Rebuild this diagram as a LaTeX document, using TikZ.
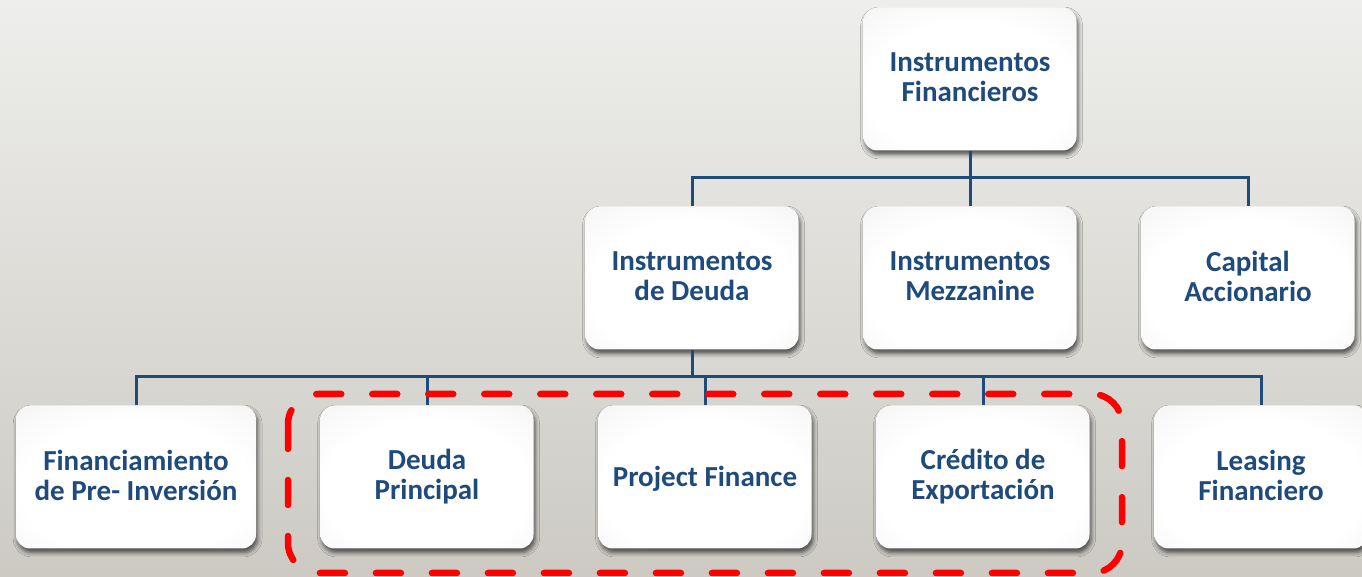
\documentclass[tikz,border=0pt]{standalone}
\usepackage{fontspec}
\setmainfont{Carlito}
\usetikzlibrary{shadows.blur}

\definecolor{bgtop}{HTML}{EEEEEC}
\definecolor{bgbot}{HTML}{CCCAC3}
\definecolor{navy}{HTML}{1F4A7C}
\definecolor{hlred}{HTML}{FF0000}

% invisible rule that fixes the vertical placement of card labels
\newcommand\cardstrut{\rule[-2pt]{0pt}{14pt}}

% soft white card face, slightly greyer towards the rim
\pgfdeclareradialshading{cardshade}{\pgfpoint{0bp}{-6bp}}{%
  color(0bp)=(white); color(24bp)=(white); color(42bp)=(black!5);
  color(58bp)=(black!11); color(80bp)=(black!14)}

\tikzset{
  card/.style={rounded corners=7pt, minimum width=106.5pt, minimum height=71.5pt,
    inner sep=0pt, shading=cardshade,
    blur shadow={shadow xshift=0.8pt, shadow yshift=-2pt,
      shadow blur radius=2.2pt, shadow opacity=65},
    font=\bfseries\fontsize{14.5}{15}\selectfont, text=navy, align=center,
    execute at begin node=\cardstrut, execute at end node=\cardstrut},
  conn/.style={draw=navy, line width=1.5pt},
  highlight/.style={draw=hlred, line width=3.25pt, dash pattern=on 12.5pt off 15.5pt,
    line cap=round, rounded corners=15pt}
}

\begin{document}
\begin{tikzpicture}[x=0.5pt,y=-0.5pt]
  % page background
  \shade[top color=bgtop, bottom color=bgbot] (0,0) rectangle (1362,577);
  \useasboundingbox (0,0) rectangle (1362,577);
  \clip (0,0) rectangle (1362,577);

  % junction points of the two bus lines
  \coordinate (j1) at (970,178);
  \coordinate (j2) at (692,377);

  % root
  \node[card] (top) at (970,79) {Instrumentos\\Financieros};

  % second level
  \node[card] (deuda) at (692,278) {Instrumentos\\de Deuda};
  \node[card] (mezz) at (970,278) {Instrumentos\\Mezzanine};
  \node[card] (cap) at (1248,278) {Capital\\Accionario};

  % third level
  \node[card, minimum width=120pt] (fin) at (136,477) {Financiamiento\\de Pre- Inversión};
  \node[card] (dp) at (427,477) {Deuda\\Principal};
  \node[card] (pf) at (705,477) {Project Finance};
  \node[card] (ce) at (983,477) {Crédito de\\Exportación};
  \node[card] (lf) at (1261,477) {Leasing\\Financiero};

  % connectors
  \draw[conn] (top.south) -- (j1);
  \draw[conn] (deuda.north) |- (j1) -| (cap.north);
  \draw[conn] (j1) -- (mezz.north);
  \draw[conn] (deuda.south) -- (j2);
  \draw[conn] (fin.north) |- (j2) -| (lf.north);
  \draw[conn] (dp.north) -- (dp.north |- j2);
  \draw[conn] (pf.north) -- (pf.north |- j2);
  \draw[conn] (ce.north) -- (ce.north |- j2);

  % highlighted group of debt instruments
  \draw[highlight] (288,394) rectangle (1122,573);
\end{tikzpicture}
\end{document}
